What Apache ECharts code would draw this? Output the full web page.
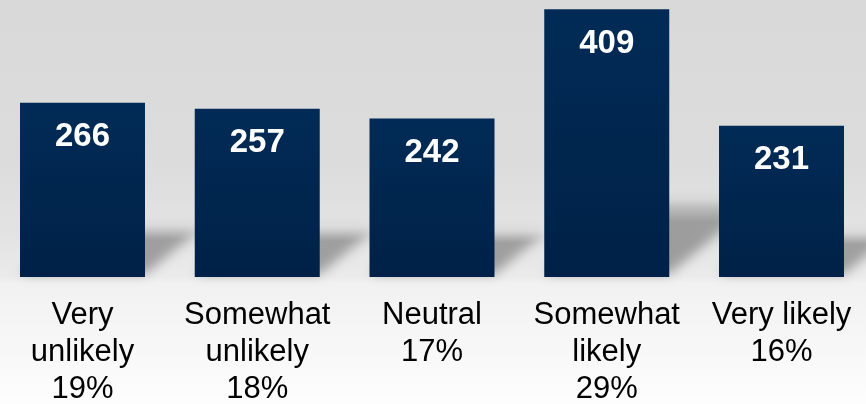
<!DOCTYPE html>
<html>
<head>
<meta charset="utf-8">
<title>Likelihood responses</title>
<script src="https://cdn.jsdelivr.net/npm/echarts@6/dist/echarts.min.js"></script>
<style>
  html, body { margin: 0; padding: 0; background: #ffffff; }
  #chart { width: 866px; height: 404px; }
</style>
</head>
<body>
<div id="chart"></div>
<script>
// Response categories (line breaks as shown under each bar)
const categories = ['Very\nunlikely', 'Somewhat\nunlikely', 'Neutral', 'Somewhat\nlikely', 'Very likely'];
// Number of respondents per category
const counts = [266, 257, 242, 409, 231];
// Share of respondents per category, in percent
const percents = [19, 18, 17, 29, 16];

const BAR_W = 125;
const FONT = '"Liberation Sans", Arial, Helvetica, sans-serif';
// The shadow shape is painted out of view and only its blurred canvas shadow is shifted back in
const SHADOW_SHIFT = 2000;

const chart = echarts.init(document.getElementById('chart'), null, { renderer: 'canvas' });

// Soft floor shadow cast by each bar towards the upper right
function renderShadow(params, api) {
  const xv = api.value(0);
  const v = api.value(1);
  const base = api.coord([xv, 0]);
  const top = api.coord([xv, v]);
  const h = base[1] - top[1];
  const x0 = base[0] - BAR_W / 2;
  const x1 = base[0] + BAR_W / 2;
  const y0 = base[1] - 3 - SHADOW_SHIFT;
  const sh = 0.28 * h;
  const sk = 0.34 * h;
  return {
    type: 'polygon',
    shape: {
      points: [[x0, y0], [x1, y0], [x1 + sk, y0 - sh], [x0 + sk, y0 - sh]]
    },
    style: {
      fill: new echarts.graphic.LinearGradient(0, 0, 0, 1, [
        { offset: 0, color: 'rgba(0,0,0,0.08)' },
        { offset: 0.3, color: 'rgba(0,0,0,0.3)' },
        { offset: 1, color: 'rgba(0,0,0,0.33)' }
      ]),
      shadowBlur: 12,
      shadowColor: 'rgba(0,0,0,1)',
      shadowOffsetX: 0,
      shadowOffsetY: SHADOW_SHIFT
    },
    silent: true
  };
}

const option = {
  animation: false,
  backgroundColor: new echarts.graphic.LinearGradient(0, 0, 0, 1, [
    { offset: 0, color: '#d9d9d9' },
    { offset: 0.4, color: '#dcdcdc' },
    { offset: 0.6, color: '#e4e4e4' },
    { offset: 0.685, color: '#ebebeb' },
    { offset: 0.7, color: '#f1f1f1' },
    { offset: 1, color: '#fdfdfd' }
  ]),
  grid: {
    left: -4.875,
    right: -2.875,
    top: 2,
    bottom: 127,
    containLabel: false,
    outerBoundsMode: 'none'
  },
  xAxis: {
    type: 'category',
    data: categories,
    axisLine: { show: false },
    axisTick: { show: false },
    axisLabel: {
      interval: 0,
      margin: 20,
      color: '#000000',
      fontFamily: FONT,
      fontSize: 31,
      lineHeight: 37,
      align: 'center',
      formatter: function (name, idx) {
        return name + '\n' + percents[idx] + '%';
      }
    }
  },
  yAxis: {
    type: 'value',
    min: 0,
    max: 420,
    show: false,
    splitLine: { show: false }
  },
  series: [
    {
      type: 'custom',
      renderItem: renderShadow,
      data: counts.map((c, i) => [i, c]),
      z: 1,
      silent: true,
      clip: false
    },
    {
      type: 'bar',
      data: counts,
      barWidth: BAR_W,
      z: 3,
      itemStyle: {
        color: new echarts.graphic.LinearGradient(0, 0, 0, 1, [
          { offset: 0, color: '#012b56' },
          { offset: 1, color: '#002147' }
        ])
      },
      label: {
        show: true,
        position: 'insideTop',
        distance: 18,
        color: '#ffffff',
        fontFamily: FONT,
        fontWeight: 'bold',
        fontSize: 33
      }
    }
  ]
};

chart.setOption(option);
</script>
</body>
</html>
